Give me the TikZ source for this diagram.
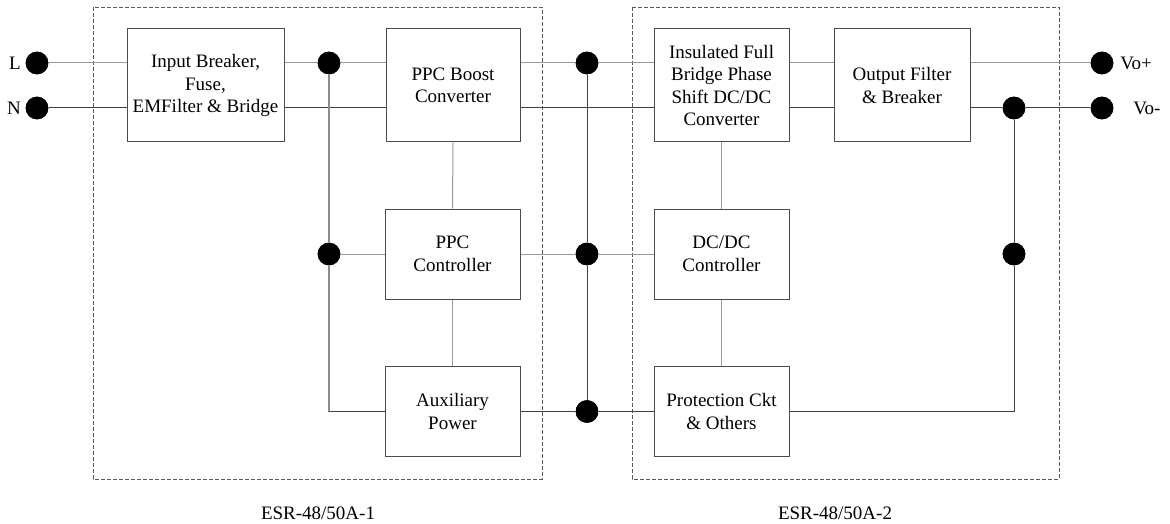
\documentclass[tikz,border=0pt]{standalone}
\usepackage{fontspec}
\setmainfont{Liberation Serif}
\begin{document}
\begin{tikzpicture}[x=0.75pt,y=-0.75pt,
  font=\fontsize{14.25}{16.8}\selectfont,
  blk/.style={draw=black!70,line width=0.75pt,fill=white,rectangle,align=center,inner sep=0pt},
  topblk/.style={blk,minimum height=84.75pt},
  lowblk/.style={blk,minimum width=101.25pt,minimum height=67.5pt},
  dot/.style={circle,fill=black,draw=none,minimum size=17pt,inner sep=0pt},
  lite/.style={draw=black!40,line width=0.75pt},
  dark/.style={draw=black!75,line width=0.75pt},
  bus/.style={draw=black!45,line width=1.4pt},
  frame/.style={draw=black!65,line width=0.6pt,dash pattern=on 3pt off 1.5pt},
  lbl/.style={inner sep=0pt}]
\useasboundingbox (0,0) rectangle (1170,524);
% dashed frames
\draw[frame] (93,7) rectangle (542,479);
\draw[frame] (632,7) rectangle (1059,479);
% blocks
\node[topblk,minimum width=117.75pt] (inp) at (205.5,85.5) {Input Breaker,\\Fuse,\\EMFilter \& Bridge};
\node[topblk,minimum width=100.5pt] (boost) at (453,85.5) {PPC Boost\\Converter};
\node[topblk,minimum width=101.25pt] (ins) at (721.5,85.5) {Insulated Full\\Bridge Phase\\Shift DC/DC\\Converter};
\node[topblk,minimum width=102pt] (outf) at (902,85.5) {Output Filter\\\& Breaker};
\node[lowblk] (pctl) at (452.5,254) {PPC\\Controller};
\node[lowblk] (aux) at (452.5,411.5) {Auxiliary\\Power};
\node[lowblk] (dctl) at (721.5,254) {DC/DC\\Controller};
\node[lowblk] (prot) at (721.5,411.5) {Protection Ckt\\\& Others};
% dots
\node[dot] (dL) at (37,63) {};
\node[dot] (dN) at (37,108) {};
\node[dot] (j1) at (329,63) {};
\node[dot] (j2) at (329,254) {};
\coordinate (c1) at (329,411.5);
\node[dot] (m1) at (587,63) {};
\node[dot] (m2) at (587,254) {};
\node[dot] (m3) at (587,411.5) {};
\node[dot] (o1) at (1102,63) {};
\node[dot] (o2) at (1102,108) {};
\node[dot] (r1) at (1014,108) {};
\node[dot] (r2) at (1014,254) {};
\coordinate (c2) at (1014,411.5);
% terminal labels
\node[lbl,anchor=east] (tL) at (21,63) {L};
\node[lbl,anchor=east] (tN) at (21,108) {N};
\node[lbl,anchor=west] (tP) at (1120,63) {Vo+};
\node[lbl,anchor=west] (tM) at (1133,108) {Vo-};
% frame labels
\node[lbl] (e1) at (318,513) {ESR-48/50A-1};
\node[lbl] (e2) at (835,513) {ESR-48/50A-2};
\begin{scope}[on background layer/.style={}]
\end{scope}
% connectors (drawn, then blocks/dots redrawn on top by order)
\path[lite] (dL) -- (inp.west |- dL);
\path[dark] (dN) -- (inp.west |- dN);
\path[lite] (inp.east |- j1) -- (j1) -- (boost.west |- j1);
\path[dark] (inp.east |- dN) -- (boost.west |- dN);
\path[bus] (j1) -- (j2) -- (c1);
\path[dark] (c1) -- (aux.west);
\path[lite] (j2) -- (pctl.west);
\path[lite] (boost.south) -- (pctl.north);
\path[lite] (pctl.south) -- (aux.north);
\path[lite] (boost.east |- m1) -- (m1) -- (ins.west |- m1);
\path[dark] (boost.east |- dN) -- (ins.west |- dN);
\path[dark] (m1) -- (m2) -- (m3);
\path[lite] (pctl.east) -- (m2) -- (dctl.west);
\path[dark] (aux.east) -- (m3) -- (prot.west);
\path[lite] (ins.south) -- (dctl.north);
\path[lite] (dctl.south) -- (prot.north);
\path[lite] (ins.east |- m1) -- (outf.west |- m1);
\path[dark] (ins.east |- dN) -- (outf.west |- dN);
\path[lite] (outf.east |- o1) -- (o1);
\path[dark] (outf.east |- o2) -- (r1) -- (o2);
\path[dark] (r1) -- (r2) -- (c2) -- (prot.east);
% redraw dots on top
\foreach \d in {dL,dN,j1,j2,m1,m2,m3,o1,o2,r1,r2}{\fill (\d) circle (8.5pt);}
\end{tikzpicture}
\end{document}
